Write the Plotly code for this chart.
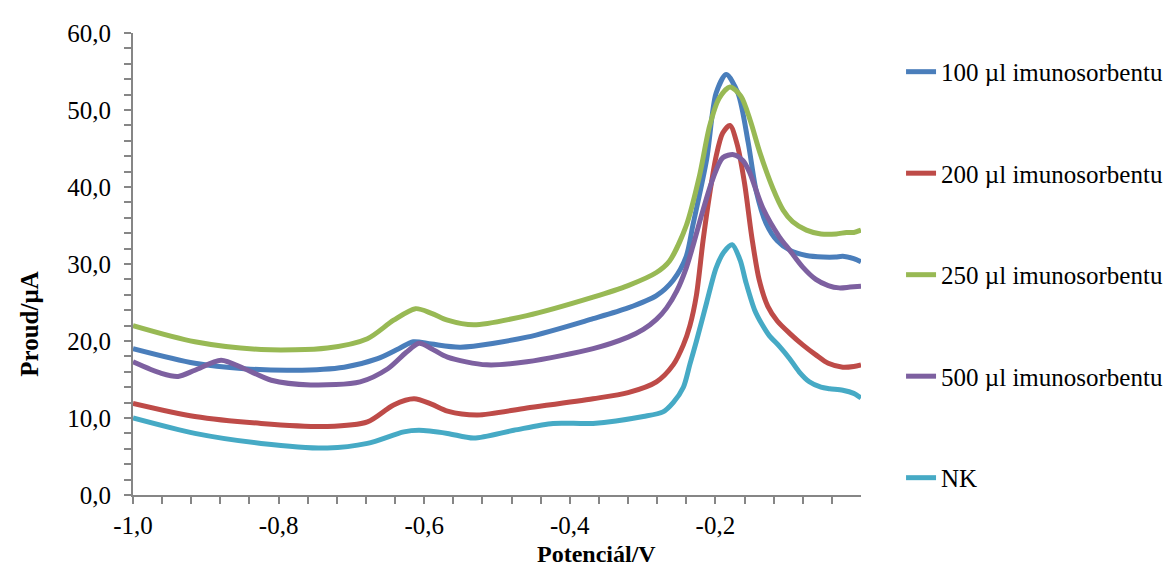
import numpy as np
import plotly.graph_objects as go

# ---- data (potential in V, current in µA) ----
x_100 = [-1.0, -0.915, -0.847, -0.779, -0.71, -0.664, -0.635, -0.615, -0.59, -0.55, -0.459, -0.368, -0.32,
         -0.281, -0.258, -0.24, -0.231, -0.212, -0.199, -0.185, -0.169, -0.155, -0.144, -0.13, -0.115, -0.098,
         -0.075, -0.052, -0.035, -0.025, -0.01, 0.0]
y_100 = [19.0, 17.1, 16.4, 16.2, 16.6, 17.7, 19.0, 19.9, 19.6, 19.2, 20.5, 22.9, 24.3,
         25.9, 27.9, 31.0, 35.0, 43.6, 52.2, 54.6, 52.2, 45.8, 39.5, 35.2, 33.0, 31.8,
         31.1, 30.9, 30.9, 31.0, 30.7, 30.3]

x_200 = [-1.0, -0.915, -0.824, -0.733, -0.678, -0.642, -0.614, -0.59, -0.568, -0.527, -0.459, -0.368, -0.32,
         -0.281, -0.258, -0.244, -0.235, -0.226, -0.217, -0.208, -0.199, -0.19, -0.18, -0.17, -0.16, -0.15,
         -0.14, -0.128, -0.115, -0.098, -0.08, -0.062, -0.045, -0.025, -0.01, 0.0]
y_200 = [11.9, 10.2, 9.3, 8.9, 9.5, 11.7, 12.5, 11.8, 10.9, 10.4, 11.3, 12.5, 13.3,
         14.7, 16.9, 19.5, 22.0, 26.0, 33.0, 39.0, 44.0, 47.0, 48.0, 45.5, 40.5, 33.5,
         28.0, 24.5, 22.6, 21.0, 19.5, 18.2, 17.1, 16.6, 16.7, 16.9]

x_250 = [-1.0, -0.915, -0.824, -0.733, -0.678, -0.642, -0.612, -0.59, -0.568, -0.532, -0.459, -0.368, -0.32,
         -0.281, -0.263, -0.24, -0.222, -0.208, -0.195, -0.18, -0.165, -0.152, -0.139, -0.121, -0.107, -0.094,
         -0.075, -0.055, -0.034, -0.02, -0.01, 0.0]
y_250 = [22.0, 19.9, 18.9, 19.1, 20.3, 22.7, 24.2, 23.6, 22.7, 22.1, 23.3, 25.7, 27.2,
         28.9, 30.4, 35.0, 41.4, 47.9, 51.5, 53.0, 51.8, 48.6, 44.5, 39.8, 37.0, 35.5,
         34.4, 33.9, 33.9, 34.1, 34.1, 34.4]

x_500 = [-1.0, -0.961, -0.938, -0.915, -0.879, -0.847, -0.81, -0.756, -0.688, -0.65, -0.625, -0.607, -0.59,
         -0.568, -0.514, -0.459, -0.368, -0.32, -0.299, -0.281, -0.267, -0.253, -0.24, -0.231, -0.217, -0.203,
         -0.19, -0.175, -0.162, -0.153, -0.135, -0.112, -0.098, -0.08, -0.062, -0.045, -0.03, -0.015, 0.0]
y_500 = [17.3, 15.8, 15.4, 16.2, 17.5, 16.4, 14.9, 14.3, 14.7, 16.4, 18.5, 19.7, 19.0,
         17.9, 16.9, 17.3, 19.0, 20.5, 21.5, 22.8, 24.3, 26.5, 29.5, 32.3, 37.0, 41.2,
         43.8, 44.2, 43.4, 41.9, 37.3, 33.5, 31.8, 29.6, 28.0, 27.2, 26.9, 27.0, 27.1]

x_nk = [-1.0, -0.915, -0.824, -0.733, -0.678, -0.628, -0.607, -0.568, -0.532, -0.477, -0.423, -0.368, -0.299,
        -0.272, -0.258, -0.244, -0.235, -0.226, -0.212, -0.199, -0.188, -0.177, -0.166, -0.158, -0.146,
        -0.135, -0.126, -0.112, -0.098, -0.085, -0.071, -0.055, -0.043, -0.025, -0.01, 0.0]
y_nk = [10.0, 8.0, 6.7, 6.1, 6.7, 8.2, 8.4, 8.0, 7.4, 8.4, 9.3, 9.3, 10.2,
        10.8, 12.0, 14.0, 17.0, 20.0, 25.0, 29.5, 31.6, 32.5, 30.5, 27.6, 24.0,
        22.0, 20.7, 19.3, 17.7, 16.0, 14.7, 14.0, 13.8, 13.6, 13.2, 12.6]

series_names = ["100 µl imunosorbentu", "200 µl imunosorbentu", "250 µl imunosorbentu",
                "500 µl imunosorbentu", "NK"]
series_colors = ["#4A7EBB", "#BE4B48", "#98B954", "#7D60A0", "#46AAC5"]

x_tickvals = [-1.0, -0.8, -0.6, -0.4, -0.2]
x_ticktext = ["-1,0", "-0,8", "-0,6", "-0,4", "-0,2"]
y_tickvals = [0, 10, 20, 30, 40, 50, 60]
y_ticktext = ["0,0", "10,0", "20,0", "30,0", "40,0", "50,0", "60,0"]

FONT = "Liberation Serif, Times New Roman, serif"
AXIS_COLOR = "#868686"

fig = go.Figure()
for xs, ys, name, color in zip([x_100, x_200, x_250, x_500, x_nk],
                               [y_100, y_200, y_250, y_500, y_nk],
                               series_names, series_colors):
    fig.add_trace(go.Scatter(x=xs, y=ys, mode="lines", name=name, legendgroup=name,
                             line=dict(color=color, width=5, shape="spline", smoothing=0.8)))

minor_x = [round(v, 2) for v in np.arange(-0.96, -0.01, 0.04)]

fig.update_layout(
    width=1174, height=567,
    margin=dict(l=125, r=321, t=23, b=80),
    paper_bgcolor="white", plot_bgcolor="white",
    font=dict(family=FONT, size=25, color="black"),
    showlegend=True,
    legend=dict(x=1.055, xanchor="left", y=(487 - 39) / 464, yanchor="top",
                font=dict(family=FONT, size=25, color="black"),
                traceorder="grouped", tracegroupgap=66, bgcolor="rgba(0,0,0,0)"),
    xaxis=dict(range=[-1.0, 0.0], tickmode="array", tickvals=x_tickvals, ticktext=x_ticktext,
               showgrid=False, zeroline=False, showline=True, linecolor=AXIS_COLOR, linewidth=2,
               ticks="outside", ticklen=7, tickwidth=1.5, tickcolor=AXIS_COLOR,
               tickfont=dict(family=FONT, size=25, color="black"),
               minor=dict(tickmode="array", tickvals=minor_x, ticks="outside", ticklen=7,
                          tickwidth=1.5, tickcolor=AXIS_COLOR, showgrid=False)),
    yaxis=dict(range=[0, 60], tickmode="array", tickvals=y_tickvals, ticktext=y_ticktext,
               showgrid=False, zeroline=False, showline=True, linecolor=AXIS_COLOR, linewidth=2,
               ticks="outside", ticklen=7, tickwidth=1.5, tickcolor=AXIS_COLOR,
               ticklabelstandoff=8,
               tickfont=dict(family=FONT, size=25, color="black"),
               minor=dict(dtick=2, tick0=0, ticks="outside", ticklen=7,
                          tickwidth=1.5, tickcolor=AXIS_COLOR, showgrid=False)),
    annotations=[
        dict(text="<b>Potenciál/V</b>", xref="paper", yref="paper", x=(588 - 125) / 728,
             y=(487 - 546) / 464, xanchor="center", yanchor="middle", showarrow=False,
             font=dict(family=FONT, size=24, color="black")),
        dict(text="<b>Proud/µA</b>", xref="paper", yref="paper", x=(22 - 125) / 728,
             y=(487 - 315) / 464, xanchor="center", yanchor="middle", showarrow=False,
             textangle=-90, font=dict(family=FONT, size=25, color="black")),
    ],
)

fig.write_html("out.html")
